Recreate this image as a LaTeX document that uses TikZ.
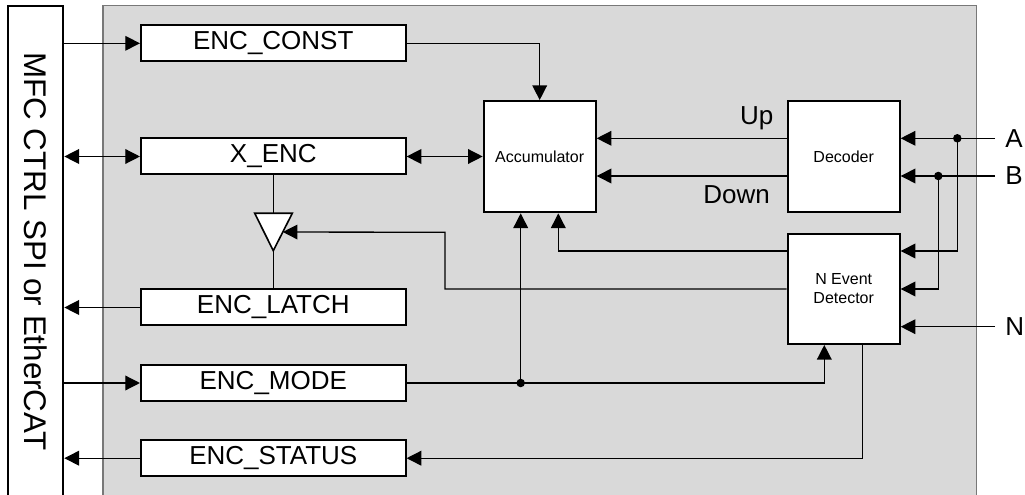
\documentclass[tikz,border=0pt]{standalone}
\usepackage{fontspec}
\setmainfont{Liberation Sans}
\usetikzlibrary{arrows.meta,calc}
\definecolor{encbg}{RGB}{217,217,217}
\definecolor{encedge}{RGB}{120,120,120}
\newcommand{\regfont}{\fontsize{19.5pt}{22pt}\selectfont}
\newcommand{\blkfont}{\fontsize{12pt}{14.5pt}\selectfont}
\newcommand{\busfont}{\fontsize{23.5pt}{26pt}\selectfont}

\begin{document}
\begin{tikzpicture}[x=0.75pt,y=-0.75pt,
  >={Triangle[length=11pt,width=11pt]},
  reg/.style={draw,line width=1.5pt,fill=white,minimum width=198.5pt,
    minimum height=27pt,inner sep=0pt,font=\regfont},
  blk/.style={draw,line width=1.5pt,fill=white,minimum width=84pt,
    minimum height=83.5pt,inner sep=0pt,align=center,font=\blkfont},
  wire/.style={line width=1pt},
  flow/.style={->,wire},
  lbl/.style={inner sep=0pt,font=\regfont},
  sig/.style={anchor=west,inner xsep=7.5pt,inner ysep=0pt,font=\regfont}]
\useasboundingbox (0,0) rectangle (1025,495);
% panels
\node[draw=encedge,fill=encbg,line width=1pt,minimum width=655pt,
  minimum height=371pt,inner sep=0pt] (core) at (539.7,253) {};
\node[draw,line width=1.5pt,fill=white,rotate=-90,minimum width=368.5pt,
  minimum height=41.3pt,inner sep=0pt,font=\busfont] (mfc) at (35.8,251.3)
  {MFC CTRL SPI or EtherCAT};
% registers
\node[reg] (const) at (273.3,43.3) {ENC\_CONST};
\node[reg] (xenc) at (273.3,156.5) {X\_ENC};
\node[reg] (latch) at (273.3,307.5) {ENC\_LATCH};
\node[reg] (mode) at (273.3,383) {ENC\_MODE};
\node[reg] (status) at (273.3,458.2) {ENC\_STATUS};
% blocks
\node[blk] (acc) at (539.7,156.7) {Accumulator};
\node[blk] (dec) at (843.7,156.7) {Decoder};
\node[blk,minimum height=82.7pt] (ndet) at (843.7,288.8) {N Event\\Detector};
% latch buffer
\coordinate (bufL) at (254.7,213.3);
\coordinate (bufR) at (292.3,213.3);
\coordinate (bufO) at (273.3,250.7);
\coordinate (bufSide) at ($(bufR)!0.5!(bufO)$);
\coordinate (bufTap) at (445,232.3);
\draw[line width=1.2pt,fill=white] (bufL) -- (bufR) -- (bufO) -- cycle;
% rows and taps
\coordinate (accRow) at (0,251);
\coordinate (bufRow) at (0,289);
\coordinate (accIn1) at (520.7,0);
\coordinate (accIn2) at (558.3,0);
\coordinate (detIn) at (824.3,0);
\coordinate (detOut) at (862.7,0);
\coordinate (jm) at (520.7,383);
\coordinate (jA) at (957.3,138.3);
\coordinate (jB) at (938.3,176);
% inputs
\node[sig] (inA) at (995,138.3) {A};
\node[sig] (inB) at (995,176) {B};
\node[sig] (inN) at (995,326.7) {N};
% bus side
\draw[flow] (mfc.north |- const) -- (const);
\draw[<->,wire] (mfc.north |- xenc) -- (xenc);
\draw[flow] (latch) -- (mfc.north |- latch);
\draw[flow] (mfc.north |- mode) -- (mode);
\draw[flow] (status) -- (mfc.north |- status);
% core
\draw[flow] (const) -| (acc);
\draw[<->,wire] (xenc.east) -- (xenc.east -| acc.west);
\draw[wire] (xenc) -- (xenc.south |- bufL);
\draw[wire] (bufO) -- (latch);
\draw[flow] (dec.west |- jA) -- (acc.east |- jA);
\draw[flow] (dec.west |- jB) -- (acc.east |- jB);
\node[lbl] (up) at (756.7,118.3) {Up};
\node[lbl] (down) at (736.7,195) {Down};
\draw[flow] (inA) -- (inA -| dec.east);
\draw[flow] (inB) -- (inB -| dec.east);
\draw[flow] (inN) -- (inN -| ndet.east);
\draw[flow] (jA) |- (ndet.east |- accRow);
\draw[flow] (jB) |- (ndet.east |- bufRow);
\draw[flow] (ndet.west |- accRow) -| (accIn2 |- acc.south);
\draw[flow] (ndet.west |- bufRow) -| (bufTap) -- (bufSide);
\draw[flow] (mode) -| (detIn |- ndet.south);
\draw[flow] (jm) -- (jm |- acc.south);
\draw[flow] (detOut |- ndet.south) |- (status);
\foreach \j in {jm,jA,jB}
  \fill (\j) circle[radius=3.2pt];
\end{tikzpicture}
\end{document}
